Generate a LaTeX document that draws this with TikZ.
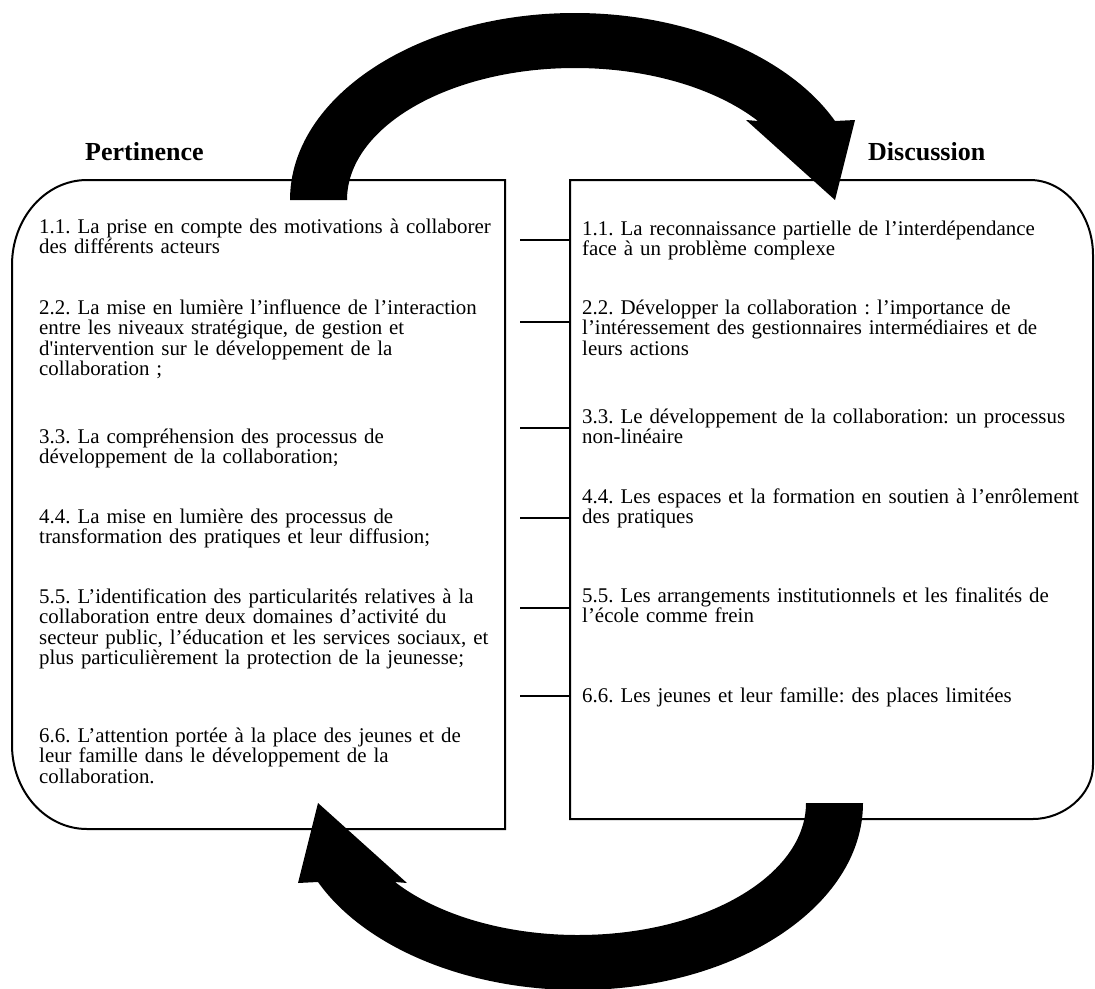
\documentclass[tikz,border=0pt]{standalone}
\usepackage{fontspec}
\setmainfont{Liberation Serif}
\frenchspacing
\begin{document}
\begin{tikzpicture}[x=1pt,y=-1pt,
  body/.style={anchor=base west, inner sep=0pt, text width=520pt, align=left,
    font=\fontsize{20.9}{20.5}\selectfont\frenchspacing},
  head/.style={anchor=base west, inner sep=0pt, font=\fontsize{26}{30}\selectfont\bfseries},
  boxline/.style={draw=black, line width=2pt},
  conn/.style={draw=black, line width=1.2pt},
  bigarrow/.style={fill=black, draw=none}]
\useasboundingbox (0,0) rectangle (1095,988);
\fill[white] (0,0) rectangle (1095,988);

% boxes
\draw[boxline] (505,180) -- (87,180) .. controls (45.6,180) and (12,218) .. (12,265)
  -- (12,745) .. controls (12,791.4) and (45.6,829) .. (87,829) -- (505,829) -- cycle;
\draw[boxline] (570,180) -- (1030,180) .. controls (1064.8,180) and (1093,214.6) .. (1093,255)
  -- (1093,765) .. controls (1093,795.4) and (1063.1,819) .. (1033,819) -- (570,819) -- cycle;
\coordinate (rb) at (570,500);

% headings
\node[head] (pert) at (85,160) {Pertinence};
\node[head] (disc) at (868,160) {Discussion};

% left texts
\node[body] (l1) at (39,233) {1.1. La prise en compte des motivations à collaborer\\des différents acteurs};
\node[body] (l2) at (39,314) {2.2. La mise en lumière l’influence de l’interaction\\entre les niveaux stratégique, de gestion et\\d\textquotesingle intervention sur le développement de la\\collaboration ;};
\node[body] (l3) at (39,443) {3.3. La compréhension des processus de\\développement de la collaboration;};
\node[body] (l4) at (39,523) {4.4. La mise en lumière des processus de\\transformation des pratiques et leur diffusion;};
\node[body] (l5) at (39,603) {\makebox[452pt][s]{5.5. L’identification des particularités relatives à la}\\\makebox[452pt][s]{collaboration entre deux domaines d’activité du}\\\makebox[452pt][s]{secteur public, l’éducation et les services sociaux, et}\\plus particulièrement la protection de la jeunesse;};
\node[body] (l6) at (39,742) {6.6. L’attention portée à la place des jeunes et de\\leur famille dans le développement de la\\collaboration.};

% right texts
\node[body] (r1) at (582,235) {1.1. La reconnaissance partielle de l’interdépendance\\face à un problème complexe};
\node[body] (r2) at (582,314) {2.2. Développer la collaboration : l’importance de\\l’intéressement des gestionnaires intermédiaires et de\\leurs actions};
\node[body] (r3) at (582,423) {3.3. Le développement de la collaboration: un processus\\non-linéaire};
\node[body] (r4) at (582,503) {4.4. Les espaces et la formation en soutien à l’enrôlement\\des pratiques};
\node[body] (r5) at (582,602) {5.5. Les arrangements institutionnels et les finalités de\\l’école comme frein};
\node[body] (r6) at (582,702) {6.6. Les jeunes et leur famille: des places limitées};

% connectors
\coordinate (c1) at (520,240);
\coordinate (c2) at (520,322);
\coordinate (c3) at (520,428);
\coordinate (c4) at (520,518);
\coordinate (c5) at (520,608);
\coordinate (c6) at (520,696);
\foreach \i in {1,...,6} \draw[conn] (c\i) -- (c\i -| rb);

% big curved arrows
\def\bigarrowpath{(290,200) .. controls (290,96.7) and (417.6,13) .. (575,13)
  .. controls (687.2,13) and (788.9,56.2) .. (835,121)
  -- (855,120) -- (835,200) -- (746,120) -- (758,121)
  .. controls (715.1,87.8) and (647.1,68) .. (575,68)
  .. controls (449.1,68) and (347,127.1) .. (347,200) -- cycle}
\fill[bigarrow] \bigarrowpath;
\begin{scope}[rotate around={180:(576.5,501.5)}]
\fill[bigarrow] \bigarrowpath;
\end{scope}
\end{tikzpicture}
\end{document}
